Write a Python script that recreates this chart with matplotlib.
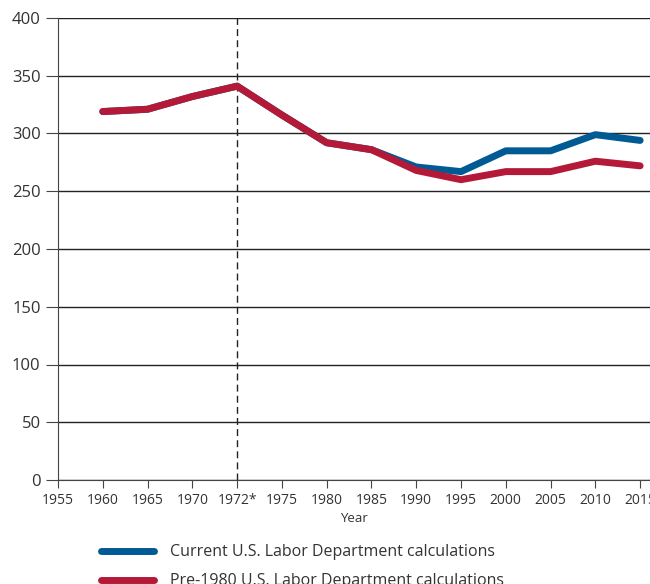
import numpy as np
import matplotlib.pyplot as plt

plt.rcParams['font.family'] = ['Open Sans', 'DejaVu Sans']

years = ['1955', '1960', '1965', '1970', '1972*', '1975', '1980', '1985',
         '1990', '1995', '2000', '2005', '2010', '2015']
# valores (1960 en adelante)
current = [319, 321, 332, 341, 316, 292, 286, 271, 267, 285, 285, 299, 294]
pre1980 = [319, 321, 332, 341, 316, 292, 286, 268, 260, 267, 267, 276, 272]
blue = '#005a94'
red = '#b41a38'

fig = plt.figure(figsize=(6.5, 5.84), dpi=100)
ax = fig.add_axes([58 / 650, 1 - 480 / 584, 1 - 58 / 650, 462 / 584])

x = np.arange(1, len(years))
ax.plot(x, current, color=blue, linewidth=5, solid_capstyle='round',
        solid_joinstyle='round', label='Current U.S. Labor Department calculations')
ax.plot(x, pre1980, color=red, linewidth=5, solid_capstyle='round',
        solid_joinstyle='round', label='Pre-1980 U.S. Labor Department calculations')

ax.axvline(4, color='#222222', linestyle=(0, (5, 3)), linewidth=1, zorder=1)

ax.set_ylim(0, 400)
ax.set_xlim(0, 13.22)
ax.set_yticks(range(0, 401, 50))
ax.set_xticks(range(len(years)))
ax.set_xticklabels(years)
ax.yaxis.grid(True, color='#222222', linewidth=1)
ax.set_axisbelow(True)
for s in ['top', 'right']:
    ax.spines[s].set_visible(False)
for s in ['left', 'bottom']:
    ax.spines[s].set_color('#444444')
ax.tick_params(axis='y', labelsize=12, length=9, color='#444444', labelcolor='#333333')
ax.tick_params(axis='x', labelsize=10, length=6, color='#444444', labelcolor='#333333')
ax.set_xlabel('Year', fontsize=9.5, color='#333333', labelpad=3)

fig.legend(loc='upper left', bbox_to_anchor=(87 / 650, 1 - 530 / 584), frameon=False,
           fontsize=11.5, handlelength=3.3, handletextpad=1.0, labelspacing=0.8,
           labelcolor='#333333')

plt.savefig('out.png', dpi=100)
